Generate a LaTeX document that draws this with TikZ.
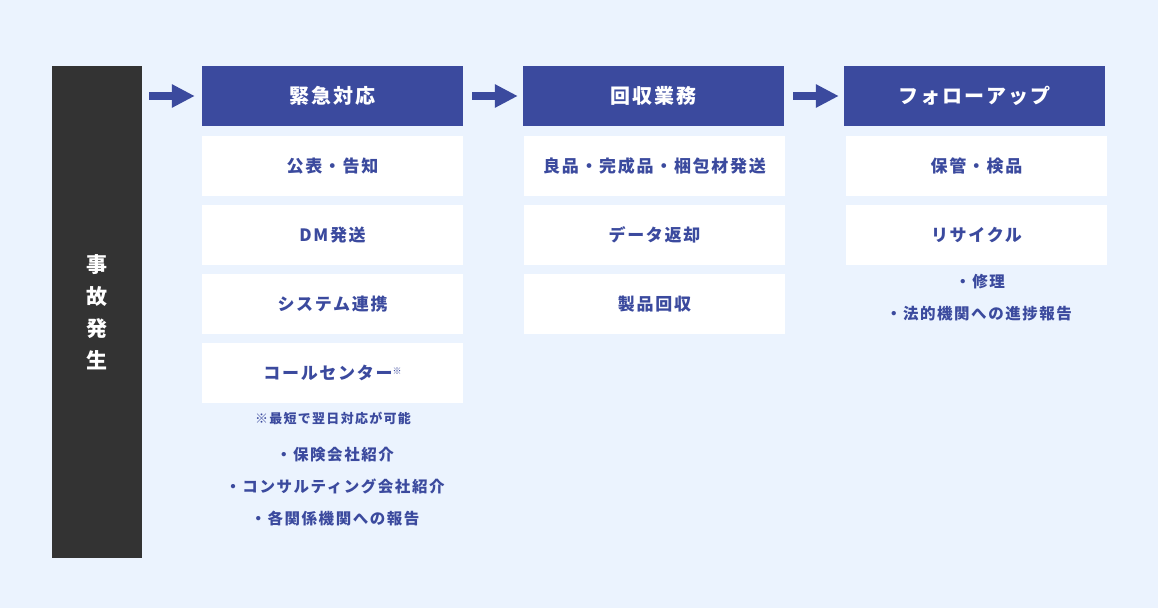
\documentclass[tikz,border=0pt]{standalone}
\usepackage{fontspec}
\setmainfont{Noto Sans CJK JP}
\newfontfamily\jpfont{Noto Sans CJK JP}[LetterSpace=10]
\usepackage{tikz}
\usetikzlibrary{arrows.meta, positioning}
\definecolor{pagebg}{HTML}{EBF3FE}
\definecolor{incidentgray}{HTML}{333333}
\definecolor{flowblue}{HTML}{3B4A9E}

\begin{document}
\begin{tikzpicture}[x=1pt, y=-1pt,
    stagehead/.style={fill=flowblue, text=white, minimum width=261pt, minimum height=60pt, inner sep=0pt, font=\jpfont\bfseries\fontsize{20}{20}\selectfont},
    taskbox/.style={fill=white, text=flowblue, minimum width=261pt, minimum height=60pt, inner sep=0pt, font=\jpfont\bfseries\fontsize{17}{17}\selectfont},
    notetext/.style={text=flowblue, inner sep=0pt, font=\jpfont\bfseries\fontsize{15.5}{15.5}\selectfont},
    flowarrow/.style={flowblue, line width=8pt, -{Triangle[length=23pt, width=22pt]}, shorten <=7pt, shorten >=7pt}]
  \fill[pagebg] (0,0) rectangle (1158,608);
  \useasboundingbox (0,0) rectangle (1158,608);

  % incident bar
  \node[fill=incidentgray, text=white, minimum width=90pt, minimum height=492pt, inner sep=0pt, align=center,
        font=\bfseries\fontsize{21}{32}\selectfont] (incident) at (97,312) {事\\故\\発\\生};

  % stage headers
  \node[stagehead] (emergency) at (332.5,96) {緊急対応};
  \node[stagehead] (recovery) at (653.5,96) {回収業務};
  \node[stagehead] (followup) at (974.5,96) {フォローアップ};

  % arrows between stages
  \draw[flowarrow] (incident.east |- emergency.west) -- (emergency.west);
  \draw[flowarrow, shorten <=9pt, shorten >=5pt] (emergency.east) -- (recovery.west);
  \draw[flowarrow, shorten <=9pt, shorten >=5pt] (recovery.east) -- (followup.west);

  % emergency tasks
  \node[taskbox] (announce) at (332.5,166) {公表・告知};
  \node[taskbox] (mailing) at (332.5,235) {DM発送};
  \node[taskbox] (sysjoin) at (332.5,304) {システム連携};
  \node[taskbox] (callcenter) at (332.5,373) {コールセンター\raisebox{5pt}{\fontsize{9}{9}\selectfont ※}};
  \node[notetext, font=\jpfont\bfseries\fontsize{13}{13}\selectfont] (callnote) at (333,418.5) {※最短で翌日対応が可能};
  \node[notetext] (insurance) at (335,454.5) {・保険会社紹介};
  \node[notetext] (consulting) at (335,486.5) {・コンサルティング会社紹介};
  \node[notetext] (agencies) at (335,518.5) {・各関係機関への報告};

  % recovery tasks
  \node[taskbox] (shipping) at (654.5,166) {良品・完成品・梱包材発送};
  \node[taskbox] (datareturn) at (654.5,235) {データ返却};
  \node[taskbox] (productback) at (654.5,304) {製品回収};

  % follow-up tasks
  \node[taskbox] (storage) at (976.5,166) {保管・検品};
  \node[taskbox] (recycle) at (976.5,235) {リサイクル};
  \node[notetext] (repair) at (980,281.5) {・修理};
  \node[notetext] (progress) at (979,313.5) {・法的機関への進捗報告};
\end{tikzpicture}
\end{document}
